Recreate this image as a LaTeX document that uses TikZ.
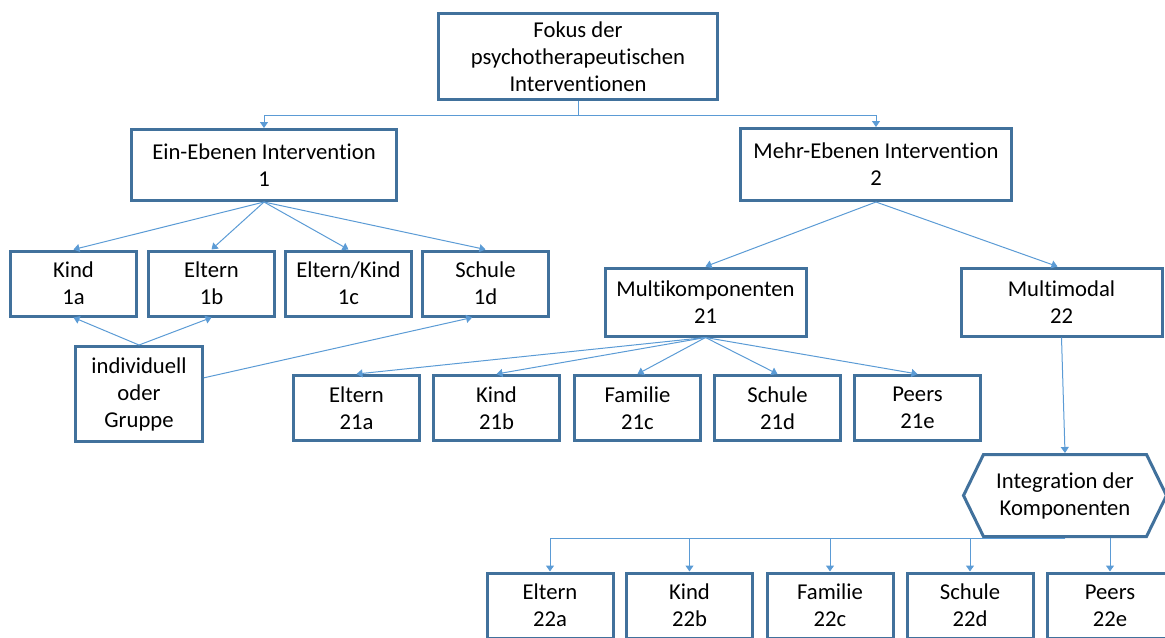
\documentclass[tikz,border=0pt]{standalone}
\usepackage{fontspec}
\setmainfont{Carlito}[Ligatures=NoCommon]
\usetikzlibrary{positioning,calc,arrows.meta,shapes.symbols}
\definecolor{boxblue}{RGB}{65,113,156}
\definecolor{lineblue}{RGB}{91,155,213}
\tikzstyle{box}=[draw=boxblue, line width=2.25pt, fill=white, align=center,
		inner sep=0pt, font=\fontsize{17}{20.25}\selectfont]
\tikzstyle{sbox}=[box, minimum width=94.5pt, minimum height=48.75pt]
\tikzstyle{hexa}=[box, shape=signal, signal to=west and east,
		signal pointer angle=128, minimum width=152.25pt, minimum height=61.5pt]
\tikzstyle{conn}=[draw=lineblue, line width=0.75pt,
		-{Triangle[length=4.5pt,width=6pt]}]
\begin{document}
\begin{tikzpicture}[x=0.75pt, y=-0.75pt]
                \useasboundingbox (0,0) rectangle (1165,637);
                \clip (0,0) rectangle (1165,637);
                \node[box, minimum width=209.25pt, minimum height=64.5pt] (fokus) at (578,56.5) {Fokus der\\psychotherapeutischen\\Interventionen};
                \node[box, minimum width=198.75pt, minimum height=53.25pt] (ein) at (264,165) {Ein-Ebenen Intervention\\1};
                \node[box, minimum width=203.25pt, minimum height=54pt] (mehr) at (876,164.5) {Mehr-Ebenen Intervention\\2};
                \node[sbox] (k1a) at (73.5,283.5) {Kind\\1a};
                \node[sbox] (e1b) at (211.5,283.5) {Eltern\\1b};
                \node[sbox] (ek1c) at (348.5,283.5) {Eltern/Kind\\1c};
                \node[sbox] (s1d) at (485.5,283.5) {Schule\\1d};
                \node[box, minimum width=95.25pt, minimum height=71.25pt] (ind) at (139,394) {individuell\\oder\\Gruppe};
                \node[box, minimum width=150.75pt, minimum height=51pt] (mk) at (705.5,302) {Multikomponenten\\21};
                \node[box, minimum width=150.75pt, minimum height=51pt] (mm) at (1061.5,302) {Multimodal\\22};
                \node[sbox] (e21a) at (356.5,408) {Eltern\\21a};
                \node[sbox] (k21b) at (496.5,408) {Kind\\21b};
                \node[sbox] (f21c) at (637.5,408) {Familie\\21c};
                \node[sbox] (s21d) at (777.5,408) {Schule\\21d};
                \node[sbox] (p21e) at (917.5,408) {Peers\\21e};
                \node[hexa] (hex) at (1065,495.5) {Integration der\\Komponenten};
                \node[sbox] (e22a) at (550,605.5) {Eltern\\22a};
                \node[sbox] (k22b) at (689.5,605.5) {Kind\\22b};
                \node[sbox] (f22c) at (830,605.5) {Familie\\22c};
                \node[sbox] (s22d) at (970,605.5) {Schule\\22d};
                \node[sbox] (p22e) at (1110,605.5) {Peers\\22e};
                \draw[conn] (fokus.south) -- ++(0,14) -| (ein.north);
                \draw[conn] (fokus.south) -- ++(0,14) -| (mehr.north);
                \foreach \n in {k1a,e1b,ek1c,s1d}
                    \draw[conn] (ein.south) -- (\n.north);
                \draw[conn] (ind.north) -- (k1a.south);
                \draw[conn] (ind.north) -- (e1b.south);
                \draw[conn] (ind.14) -- ([xshift=-10pt]s1d.south);
                \draw[conn] (mehr.south) -- (mk.north);
                \draw[conn] (mehr.south) -- ([xshift=-3pt]mm.north);
                \foreach \n in {e21a,k21b,f21c,s21d,p21e}
                    \draw[conn] (mk.south) -- (\n.north);
                \draw[conn] (mm.south) -- (hex.north);
                \foreach \n in {e22a,k22b,f22c,s22d}
                    \draw[conn] (hex.south) -| (\n.north);
                \draw[conn] (hex.south -| p22e.north) -- (p22e.north);
            \end{tikzpicture}
\end{document}
